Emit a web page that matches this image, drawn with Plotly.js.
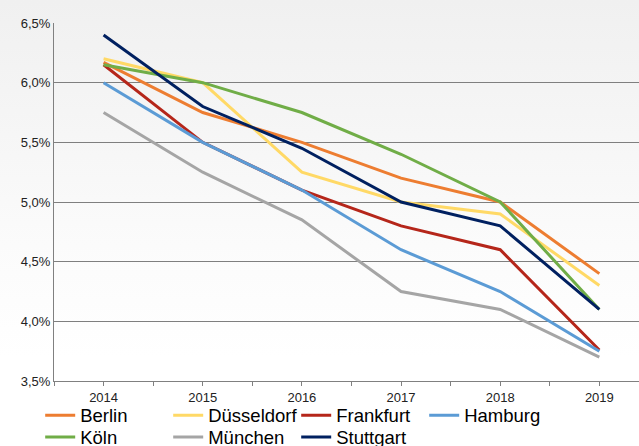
<!DOCTYPE html>
<html>
<head>
<meta charset="utf-8">
<script src="https://cdn.plot.ly/plotly-3.0.1.min.js"></script>
<style>
html,body{margin:0;padding:0;}
body{width:639px;height:446px;background:linear-gradient(to bottom,#f0f0f0 0%,#fbfbfb 55%,#ffffff 80%);}
#chart{width:639px;height:446px;}
</style>
</head>
<body>
<div id="chart"></div>
<script>
const years = [2014, 2015, 2016, 2017, 2018, 2019];
const yearLabels = ['2014', '2015', '2016', '2017', '2018', '2019'];
const cities = ['Berlin', 'Düsseldorf', 'Frankfurt', 'Hamburg', 'Köln', 'München', 'Stuttgart'];
const berlin     = [6.17, 5.75, 5.50, 5.20, 5.00, 4.40];
const duesseldorf= [6.20, 6.00, 5.25, 5.00, 4.90, 4.30];
const frankfurt  = [6.15, 5.50, 5.10, 4.80, 4.60, 3.76];
const hamburg    = [6.00, 5.50, 5.10, 4.60, 4.25, 3.75];
const koeln      = [6.15, 6.00, 5.75, 5.40, 5.00, 4.10];
const muenchen   = [5.75, 5.25, 4.85, 4.25, 4.10, 3.70];
const stuttgart  = [6.40, 5.80, 5.45, 5.00, 4.80, 4.10];
const seriesValues = [berlin, duesseldorf, frankfurt, hamburg, koeln, muenchen, stuttgart];
const colors = ['#ED7D31', '#FFD966', '#B5261A', '#5B9BD5', '#70AD47', '#A5A5A5', '#002060'];
const legendRow = ['legend', 'legend', 'legend', 'legend', 'legend2', 'legend2', 'legend2'];
const yTicks = [3.5, 4.0, 4.5, 5.0, 5.5, 6.0, 6.5];
const yTickLabels = ['3,5%', '4,0%', '4,5%', '5,0%', '5,5%', '6,0%', '6,5%'];

// tick marks at category centres and boundaries, labels only at centres
const xTickVals = [];
const xTickText = [];
years.forEach((y, i) => {
  xTickVals.push(y - 0.5); xTickText.push('');
  xTickVals.push(y); xTickText.push(yearLabels[i]);
});

const traces = cities.map((name, i) => ({
  type: 'scatter',
  mode: 'lines',
  name: name,
  x: years,
  y: seriesValues[i],
  legend: legendRow[i],
  line: {color: colors[i], width: 3},
  hoverinfo: 'skip'
}));

const legendFont = {size: 18.5, color: '#000000', family: 'Liberation Sans, Arial, sans-serif'};
function legendCfg(yc) {
  return {
    orientation: 'h',
    xref: 'container', yref: 'container',
    x: 0.0629, xanchor: 'left',
    y: yc, yanchor: 'middle',
    font: legendFont,
    entrywidth: 83,
    entrywidthmode: 'pixels',
    itemwidth: 30,
    tracegroupgap: 0,
    bgcolor: 'rgba(0,0,0,0)'
  };
}

const layout = {
  width: 639,
  height: 446,
  paper_bgcolor: 'rgba(0,0,0,0)',
  plot_bgcolor: 'rgba(0,0,0,0)',
  margin: {l: 54, r: 0, t: 23, b: 65, autoexpand: false},
  font: {family: 'Liberation Sans, Arial, sans-serif', color: '#333333'},
  showlegend: true,
  legend: legendCfg(0.068),
  legend2: legendCfg(0.0193),
  xaxis: {
    range: [2013.5, 2019.4],
    tickmode: 'array',
    tickvals: xTickVals,
    ticktext: xTickText,
    ticks: 'outside',
    ticklen: 4,
    tickcolor: '#808080',
    showgrid: false,
    showline: true,
    linecolor: '#808080',
    linewidth: 1,
    zeroline: false,
    tickfont: {size: 13, color: '#222222'},
    fixedrange: true
  },
  yaxis: {
    range: [3.5, 6.5],
    tickmode: 'array',
    tickvals: yTicks,
    ticktext: yTickLabels,
    ticks: '',
    showgrid: true,
    gridcolor: '#7f7f7f',
    gridwidth: 1,
    showline: true,
    linecolor: '#808080',
    linewidth: 1,
    zeroline: false,
    tickfont: {size: 13, color: '#222222'},
    fixedrange: true
  }
};

Plotly.newPlot('chart', traces, layout, {displayModeBar: false, staticPlot: true});
</script>
</body>
</html>
